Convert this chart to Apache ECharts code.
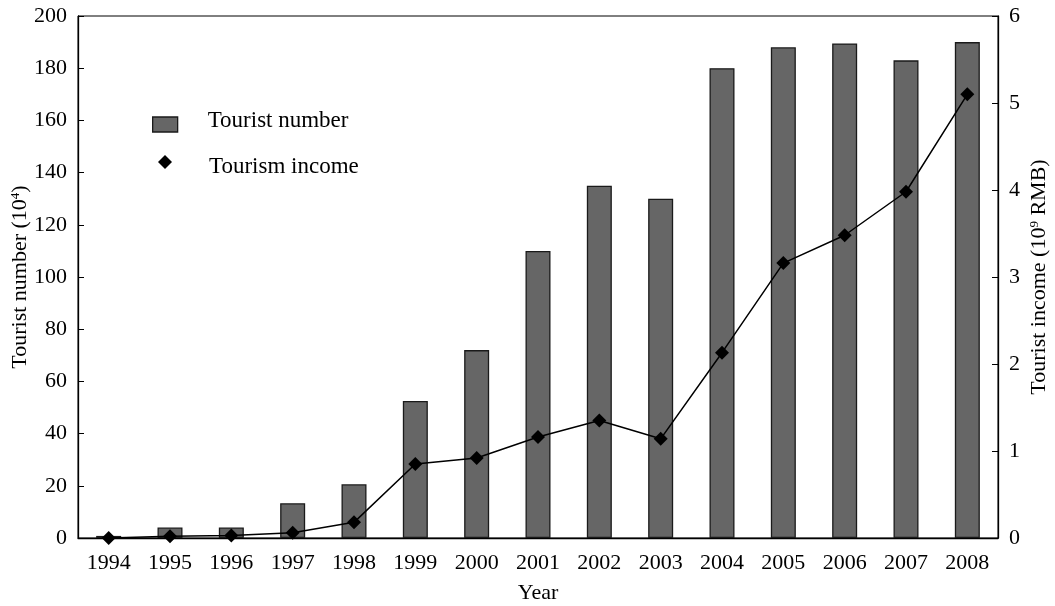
<!DOCTYPE html>
<html>
<head>
<meta charset="utf-8">
<style>
  html, body { margin: 0; padding: 0; background: #fff; }
  #chart { width: 1055px; height: 606px; }
</style>
<script src="https://cdn.jsdelivr.net/npm/echarts@6/dist/echarts.min.js"></script>
</head>
<body>
<div id="chart"></div>
<script>
// Years on the category axis
const years = ['1994', '1995', '1996', '1997', '1998', '1999', '2000', '2001',
               '2002', '2003', '2004', '2005', '2006', '2007', '2008'];
// Tourist arrivals, in 10^4 persons
const touristNumber = [0.8, 4, 4, 13.3, 20.6, 52.5, 72, 110, 135, 130, 180, 188, 189.5, 183, 190];
// Tourism income, in 10^9 RMB
const tourismIncome = [0.0, 0.02, 0.03, 0.06, 0.18, 0.85, 0.92, 1.16, 1.35, 1.14, 2.13, 3.16, 3.48, 3.98, 5.1];

const FONT = '"Liberation Serif", "DejaVu Serif", serif';
const INK = '#000';
const FS = 22;

const supStyle = { sup: { fontFamily: FONT, fontSize: 13, color: INK, verticalAlign: 'top', padding: [0, 0, 9, 0] } };

const chart = echarts.init(document.getElementById('chart'));
chart.setOption({
  animation: false,
  backgroundColor: '#fff',
  textStyle: { fontFamily: FONT, color: INK },
  grid: {
    left: 78, right: 57, top: 16, bottom: 68,
    outerBoundsMode: 'none',
    containLabel: false,
    show: true, borderColor: INK, borderWidth: 1, backgroundColor: 'transparent'
  },
  legend: [
    {
      left: 147, top: 104, orient: 'vertical',
      itemWidth: 25, itemHeight: 15,
      data: [{ name: 'Tourist number', icon: 'rect', itemStyle: { color: '#666666', borderColor: '#1a1a1a', borderWidth: 1.3 } }],
      formatter: '{t|{name}}',
      textStyle: {
        fontFamily: FONT, fontSize: 23, color: INK, padding: [0, 0, 0, 25],
        rich: { t: { fontFamily: FONT, fontSize: 23, color: INK, padding: [0, 0, 8, 0] } }
      }
    },
    {
      left: 153, top: 150, orient: 'vertical',
      itemWidth: 14, itemHeight: 14,
      data: [{ name: 'Tourism income', icon: 'diamond', itemStyle: { color: INK } }],
      formatter: '{t|{name}}',
      textStyle: {
        fontFamily: FONT, fontSize: 23, color: INK, padding: [0, 0, 0, 32],
        rich: { t: { fontFamily: FONT, fontSize: 23, color: INK, padding: [10, 0, 0, 0] } }
      }
    }
  ],
  xAxis: {
    type: 'category',
    data: years,
    name: 'Year',
    nameLocation: 'middle',
    nameGap: 44,
    nameMoveOverlap: false,
    nameTextStyle: { fontFamily: FONT, fontSize: FS, color: INK },
    axisLine: { lineStyle: { color: INK, width: 1.3 } },
    axisTick: { inside: true, length: 6, lineStyle: { color: INK } },
    axisLabel: { fontFamily: FONT, fontSize: FS, color: INK, margin: 14 }
  },
  yAxis: [
    {
      type: 'value',
      min: 0, max: 200, interval: 20,
      name: 'Tourist number (10{sup|4})',
      nameLocation: 'middle',
      nameGap: 47,
      nameMoveOverlap: false,
      nameTextStyle: { fontFamily: FONT, fontSize: FS, color: INK, rich: supStyle },
      axisLine: { show: true, lineStyle: { color: INK, width: 1.3 } },
      axisTick: { show: true, inside: true, length: 6, lineStyle: { color: INK } },
      axisLabel: { fontFamily: FONT, fontSize: FS, color: INK, margin: 11 },
      splitLine: { show: false }
    },
    {
      type: 'value',
      min: 0, max: 6, interval: 1,
      position: 'right',
      name: 'Tourist income (10{sup|9} RMB)',
      nameLocation: 'middle',
      nameGap: 30,
      nameRotate: 90,
      nameMoveOverlap: false,
      nameTextStyle: { fontFamily: FONT, fontSize: FS, color: INK, rich: supStyle },
      axisLine: { show: true, lineStyle: { color: INK, width: 1.3 } },
      axisTick: { show: true, inside: true, length: 6, lineStyle: { color: INK } },
      axisLabel: { fontFamily: FONT, fontSize: FS, color: INK, margin: 11 },
      splitLine: { show: false }
    }
  ],
  series: [
    {
      name: 'Tourist number',
      type: 'bar',
      yAxisIndex: 0,
      data: touristNumber,
      barWidth: 25,
      itemStyle: { color: '#666666', borderColor: '#1a1a1a', borderWidth: 1.3 }
    },
    {
      name: 'Tourism income',
      type: 'line',
      yAxisIndex: 1,
      data: tourismIncome,
      symbol: 'diamond',
      symbolSize: 14,
      lineStyle: { color: INK, width: 1.5 },
      itemStyle: { color: INK }
    }
  ]
});
</script>
</body>
</html>
